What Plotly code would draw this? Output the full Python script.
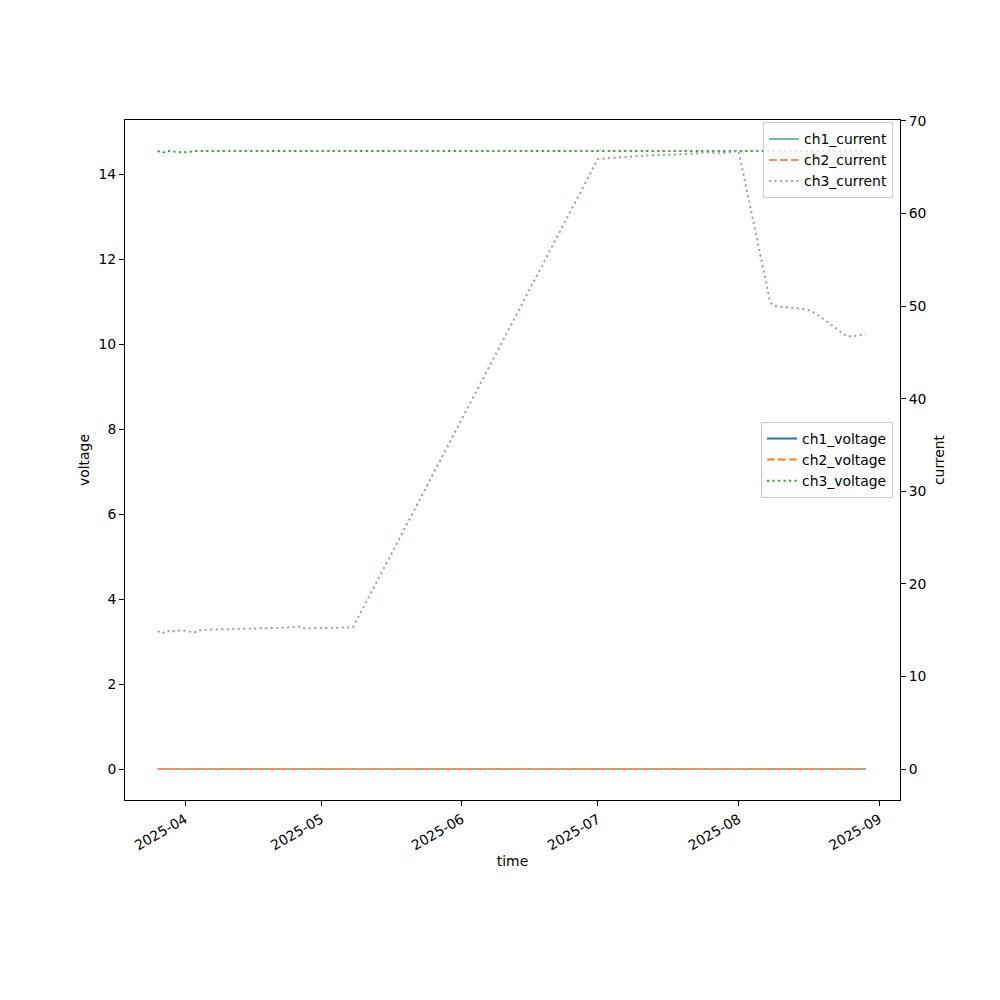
import plotly.graph_objects as go

# ---- data ----
dates = [
    "2025-03-26", "2025-03-27", "2025-03-28", "2025-03-29", "2025-03-30", "2025-03-31",
    "2025-04-01", "2025-04-03", "2025-04-04", "2025-04-06", "2025-04-09", "2025-04-12",
    "2025-04-15", "2025-04-18", "2025-04-21", "2025-04-23", "2025-04-26", "2025-04-27",
    "2025-04-30", "2025-05-03", "2025-05-06", "2025-05-08",
    "2025-07-01", "2025-07-08", "2025-07-13", "2025-07-20", "2025-07-25", "2025-07-28",
    "2025-08-01",
    "2025-08-08", "2025-08-09", "2025-08-11", "2025-08-13", "2025-08-15", "2025-08-17",
    "2025-08-18", "2025-08-25", "2025-08-27", "2025-08-29",
]

ch1_voltage = [0.0, 0.0, 0.0, 0.0, 0.0, 0.0, 0.0, 0.0, 0.0, 0.0, 0.0, 0.0, 0.0,
               0.0, 0.0, 0.0, 0.0, 0.0, 0.0, 0.0, 0.0, 0.0, 0.0, 0.0, 0.0, 0.0,
               0.0, 0.0, 0.0, 0.0, 0.0, 0.0, 0.0, 0.0, 0.0, 0.0, 0.0, 0.0, 0.0]
ch2_voltage = [0.0, 0.0, 0.0, 0.0, 0.0, 0.0, 0.0, 0.0, 0.0, 0.0, 0.0, 0.0, 0.0,
               0.0, 0.0, 0.0, 0.0, 0.0, 0.0, 0.0, 0.0, 0.0, 0.0, 0.0, 0.0, 0.0,
               0.0, 0.0, 0.0, 0.0, 0.0, 0.0, 0.0, 0.0, 0.0, 0.0, 0.0, 0.0, 0.0]
ch3_voltage = [14.55, 14.50, 14.55, 14.54, 14.52, 14.52, 14.52, 14.55, 14.55, 14.55,
               14.55, 14.55, 14.55, 14.55, 14.55, 14.55, 14.55, 14.55, 14.55, 14.55,
               14.55, 14.55, 14.55, 14.55, 14.55, 14.55, 14.55, 14.55, 14.55, 14.55,
               14.55, 14.55, 14.55, 14.55, 14.55, 14.55, 14.55, 14.55, 14.55]

ch1_current = [0.0, 0.0, 0.0, 0.0, 0.0, 0.0, 0.0, 0.0, 0.0, 0.0, 0.0, 0.0, 0.0,
               0.0, 0.0, 0.0, 0.0, 0.0, 0.0, 0.0, 0.0, 0.0, 0.0, 0.0, 0.0, 0.0,
               0.0, 0.0, 0.0, 0.0, 0.0, 0.0, 0.0, 0.0, 0.0, 0.0, 0.0, 0.0, 0.0]
ch2_current = [0.0, 0.0, 0.0, 0.0, 0.0, 0.0, 0.0, 0.0, 0.0, 0.0, 0.0, 0.0, 0.0,
               0.0, 0.0, 0.0, 0.0, 0.0, 0.0, 0.0, 0.0, 0.0, 0.0, 0.0, 0.0, 0.0,
               0.0, 0.0, 0.0, 0.0, 0.0, 0.0, 0.0, 0.0, 0.0, 0.0, 0.0, 0.0, 0.0]
ch3_current = [14.9, 14.65, 14.95, 14.8, 15.0, 15.0, 14.95, 14.75, 14.97, 15.05,
               15.08, 15.1, 15.12, 15.15, 15.2, 15.27, 15.4, 15.2, 15.23, 15.25,
               15.27, 15.3,
               65.9, 66.1, 66.3, 66.4, 66.6, 66.5, 66.75,
               50.4, 50.0, 49.9, 49.8, 49.7, 49.5, 49.2, 46.7, 46.8, 47.0]

month_ticks = ["2025-04-01", "2025-05-01", "2025-06-01", "2025-07-01", "2025-08-01", "2025-09-01"]
voltage_ticks = [0, 2, 4, 6, 8, 10, 12, 14]
current_ticks = [0, 10, 20, 30, 40, 50, 60, 70]

# ---- styles ----
FONT = "DejaVu Sans"
FS = 13.9
DASHED = "7.7px,3.3px"
DOTTED = "2.1px,3.4px"

fig = go.Figure()

volt_series = [
    ("ch1_voltage", ch1_voltage, "#1f77b4", "solid"),
    ("ch2_voltage", ch2_voltage, "#ff7f0e", DASHED),
    ("ch3_voltage", ch3_voltage, "#2ca02c", DOTTED),
]
for name, vals, color, dash in volt_series:
    fig.add_trace(go.Scatter(
        x=dates, y=vals, name=name, mode="lines",
        line=dict(color=color, width=2, dash=dash),
        yaxis="y", legend="legend2",
    ))

curr_series = [
    ("ch1_current", ch1_current, "#66c2a5", "solid"),
    ("ch2_current", ch2_current, "#fc8d62", DASHED),
    ("ch3_current", ch3_current, "#8da0cb", DOTTED),
]
for name, vals, color, dash in curr_series:
    fig.add_trace(go.Scatter(
        x=dates, y=vals, name=name, mode="lines",
        line=dict(color=color, width=2, dash=dash),
        yaxis="y2", legend="legend",
    ))

axis_common = dict(
    showgrid=False, zeroline=False, showline=True, linecolor="black", linewidth=1,
    ticks="outside", ticklen=5, tickwidth=1, tickcolor="black",
    tickfont=dict(family=FONT, size=FS, color="black"),
)

legend_common = dict(
    bgcolor="rgba(255,255,255,0.8)", bordercolor="#cccccc", borderwidth=1,
    font=dict(family=FONT, size=FS, color="black"),
    itemwidth=30, tracegroupgap=0,
)

fig.update_layout(
    width=1000, height=1000,
    margin=dict(l=117, r=108, t=112, b=208, autoexpand=False),
    paper_bgcolor="white", plot_bgcolor="white",
    font=dict(family=FONT, size=FS, color="black"),
    showlegend=True,
    xaxis=dict(
        **axis_common, mirror=True,
        type="date", range=["2025-03-18 18:30", "2025-09-05 14:00"],
        tickvals=month_ticks, tickformat="%Y-%m", tickangle=-30,
        title=dict(text="time", font=dict(family=FONT, size=FS, color="black"), standoff=3),
    ),
    yaxis=dict(
        **axis_common,
        range=[-0.7275, 15.2775], tickvals=voltage_ticks,
        title=dict(text="voltage", font=dict(family=FONT, size=FS, color="black"), standoff=5),
    ),
    yaxis2=dict(
        **axis_common,
        overlaying="y", side="right",
        range=[-3.34, 70.1], tickvals=current_ticks,
        title=dict(text="current", font=dict(family=FONT, size=FS, color="black"), standoff=8),
    ),
    legend=dict(**legend_common, x=0.991, y=0.9965, xanchor="right", yanchor="top"),
    legend2=dict(**legend_common, x=0.991, y=0.5, xanchor="right", yanchor="middle"),
)

fig.write_html("out.html")
